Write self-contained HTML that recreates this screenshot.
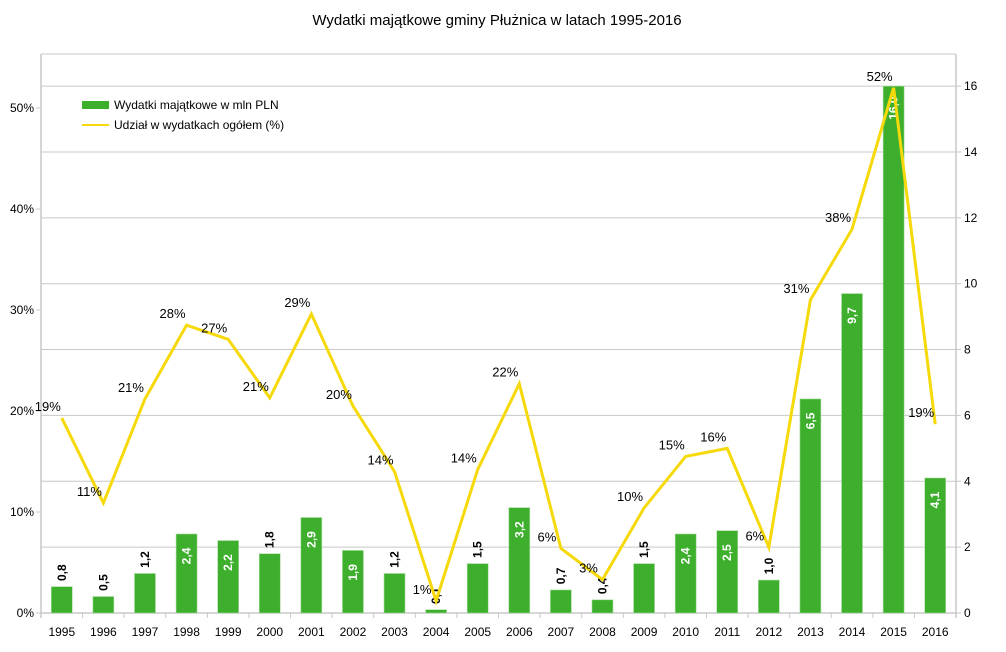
<!DOCTYPE html>
<html><head><meta charset="utf-8"><style>
body{margin:0;background:#fff;font-family:"Liberation Sans",sans-serif}
</style></head><body>
<svg id="c" width="1006" height="647" xmlns="http://www.w3.org/2000/svg" font-family="Liberation Sans, sans-serif">
<text x="497" y="25" text-anchor="middle" font-size="15">Wydatki majątkowe gminy Płużnica w latach 1995-2016</text>
</svg>
<script>
const years=["1995","1996","1997","1998","1999","2000","2001","2002","2003","2004","2005","2006","2007","2008","2009","2010","2011","2012","2013","2014","2015","2016"];
const spend=[0.8,0.5,1.2,2.4,2.2,1.8,2.9,1.9,1.2,0.1,1.5,3.2,0.7,0.4,1.5,2.4,2.5,1.0,6.5,9.7,16.0,4.1];
const share=[19.3,10.9,21.2,28.5,27.1,21.3,29.6,20.5,14,1.2,14.2,22.7,6.4,3.3,10.4,15.5,16.3,6.5,31,38,52,18.7];
const shareLabels=["19%","11%","21%","28%","27%","21%","29%","20%","14%","1%","14%","22%","6%","3%","10%","15%","16%","6%","31%","38%","52%","19%"];
const leftTicks=[0,10,20,30,40,50];
const rightTicks=[0,2,4,6,8,10,12,14,16];
const NS="http://www.w3.org/2000/svg";
const svg=document.getElementById('c');
const L=41,R=956,B=613,T=54;
const yL=v=>B-v*10.1;
const yR=v=>B-v*32.93;
const cw=(R-L)/years.length;
const xC=i=>L+cw*(i+0.5);
function mk(t,a,p){const e=document.createElementNS(NS,t);for(const k in a)e.setAttribute(k,a[k]);(p||svg).appendChild(e);return e;}
// grid
rightTicks.forEach(v=>{if(v>0){const g=mk('line',{x1:L,x2:R,y1:yR(v),y2:yR(v),stroke:'#c8c8c8','stroke-width':1});

}});
mk('line',{x1:L,x2:R,y1:T,y2:T,stroke:'#c8c8c8'});
const ax1=mk('line',{x1:L,x2:L,y1:T,y2:B+5,stroke:'#c8c8c8','stroke-width':1.5});


const ax2=mk('line',{x1:R,x2:R,y1:T,y2:B+5,stroke:'#c8c8c8','stroke-width':1.5});


const ax3=mk('line',{x1:L,x2:R,y1:B,y2:B,stroke:'#c8c8c8','stroke-width':1.5});


leftTicks.forEach(v=>{mk('line',{x1:L-5,x2:L,y1:yL(v),y2:yL(v),stroke:'#c8c8c8'});
const t=mk('text',{x:L-7,y:yL(v)+4,'text-anchor':'end','font-size':12});t.textContent=v+'%';

});
rightTicks.forEach(v=>{mk('line',{x1:R,x2:R+5,y1:yR(v),y2:yR(v),stroke:'#c8c8c8'});
const t=mk('text',{x:R+8,y:yR(v)+4,'font-size':12});t.textContent=v;

});
years.forEach((y,i)=>{mk('line',{x1:L+cw*i,x2:L+cw*i,y1:B,y2:B+5,stroke:'#c8c8c8'});
const t=mk('text',{x:xC(i),y:B+23,'text-anchor':'middle','font-size':12});t.textContent=y;

});
// bars
spend.forEach((v,i)=>{const bw=21,x=xC(i)-bw/2,y=yR(v);
const r=mk('rect',{x:x,y:y,width:bw,height:B-y,fill:'#3daf2c',stroke:'#a8dca0','stroke-width':0.6});


const inside=v>=1.9;const lab=v.toFixed(1).replace('.',',');
const cx=xC(i)+4,cy=inside?y+22:y-14;
const t=mk('text',{x:cx,y:cy,'text-anchor':'middle','font-size':12,'font-weight':'bold',fill:inside?'#fff':'#000',transform:`rotate(-90 ${cx} ${cy})`});
t.textContent=lab;

});
// line
const pl=mk('polyline',{points:share.map((v,i)=>xC(i)+','+yL(v)).join(' '),fill:'none',stroke:'#f5d90a','stroke-width':3,'stroke-linejoin':'miter'});


share.forEach((v,i)=>{const t=mk('text',{x:xC(i)-14,y:yL(v)-7,'text-anchor':'middle','font-size':13});t.textContent=shareLabels[i];

});
// legend
const g=mk('g',{});


mk('rect',{x:82,y:101,width:27,height:8,fill:'#3daf2c'},g);
const l1=mk('text',{x:114,y:109,'font-size':12},g);l1.textContent='Wydatki majątkowe w mln PLN';


mk('line',{x1:82,x2:109,y1:125,y2:125,stroke:'#f5d90a','stroke-width':2},g);
const l2=mk('text',{x:114,y:129,'font-size':12},g);l2.textContent='Udział w wydatkach ogółem (%)';


</script>
</body></html>
